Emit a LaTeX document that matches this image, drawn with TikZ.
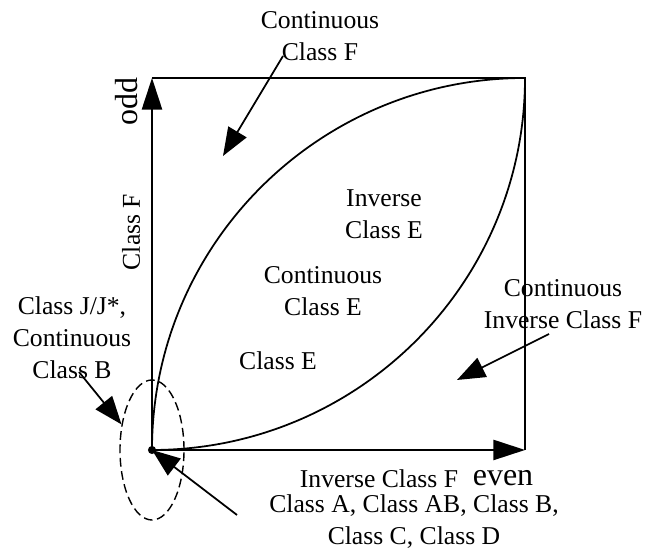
\documentclass[tikz,border=0pt]{standalone}
\usepackage{fontspec}
\setmainfont{Liberation Serif}
\usetikzlibrary{arrows.meta,shapes.geometric}

\begin{document}
\begin{tikzpicture}[line width=1pt,
  font=\fontsize{14.6}{18.2}\selectfont,
  axis/.style={-{Triangle[length=18pt,width=11.5pt]}},
  pointer/.style={-{Triangle[length=16pt,width=12pt]}},
  label/.style={align=center, inner sep=0pt},
  bigword/.style={inner sep=0pt, font=\fontsize{18.2}{20}\selectfont}]
  \useasboundingbox (-3.04,-2.04) rectangle (9.88,9.0);
  \coordinate (O) at (0,0);
  \coordinate (X) at (7.46,0);
  \coordinate (Y) at (0,7.44);
  \coordinate (XY) at (7.46,7.44);
  % Axes and box
  \draw[axis] (O) -- (X);
  \draw[axis] (O) -- (Y);
  \draw (Y) -- (XY) -- (X);
  \draw (O) .. controls +(0,4.11) and +(-4.12,0) .. (XY);
  \draw (O) .. controls +(4.12,0) and +(0,-4.11) .. (XY);
  \fill (O) circle (2.3pt);
  \node[draw, dashed, dash pattern=on 5pt off 2.6pt, line width=0.8pt, ellipse,
        minimum width=1.28cm, minimum height=2.8cm, inner sep=0pt] (ring) at (O) {};
  % Axis labels
  \node[bigword, rotate=90] (odd) at (-0.5,6.96) {odd};
  \node[label, rotate=90] (yname) at (-0.42,4.36) {Class F};
  \node[bigword] (even) at (7.02,-0.56) {even};
  \node[label] (xname) at (4.54,-0.58) {Inverse Class F};
  % Regions
  \node[label] (invE) at (4.64,4.72) {Inverse\\Class E};
  \node[label] (contE) at (3.42,3.18) {Continuous\\Class E};
  \node[label] (classE) at (2.52,1.78) {Class E};
  % Callouts
  \node[label] (contF) at (3.36,8.28) {Continuous\\Class F};
  \node[label] (classJ) at (-1.6,2.24) {Class J/J*,\\Continuous\\Class B};
  \node[label] (contInvF) at (8.22,2.92) {Continuous\\Inverse Class F};
  \node[label] (classAD) at (5.24,-1.44) {Class A, Class AB, Class B,\\Class C, Class D};
  \coordinate (contFtail) at (2.62,7.88);
  \coordinate (contFtip) at (1.42,5.88);
  \coordinate (classJtail) at (-1.46,1.56);
  \coordinate (classADtail) at (1.7,-1.3);
  \coordinate (contInvFtail) at (7.94,2.32);
  \coordinate (contInvFtip) at (6.1,1.4);
  \draw[pointer] (contFtail) -- (contFtip);
  \draw[pointer] (classJtail) -- (ring.140);
  \draw[pointer] (classADtail) -- (O);
  \draw[pointer] (contInvFtail) -- (contInvFtip);
\end{tikzpicture}
\end{document}
